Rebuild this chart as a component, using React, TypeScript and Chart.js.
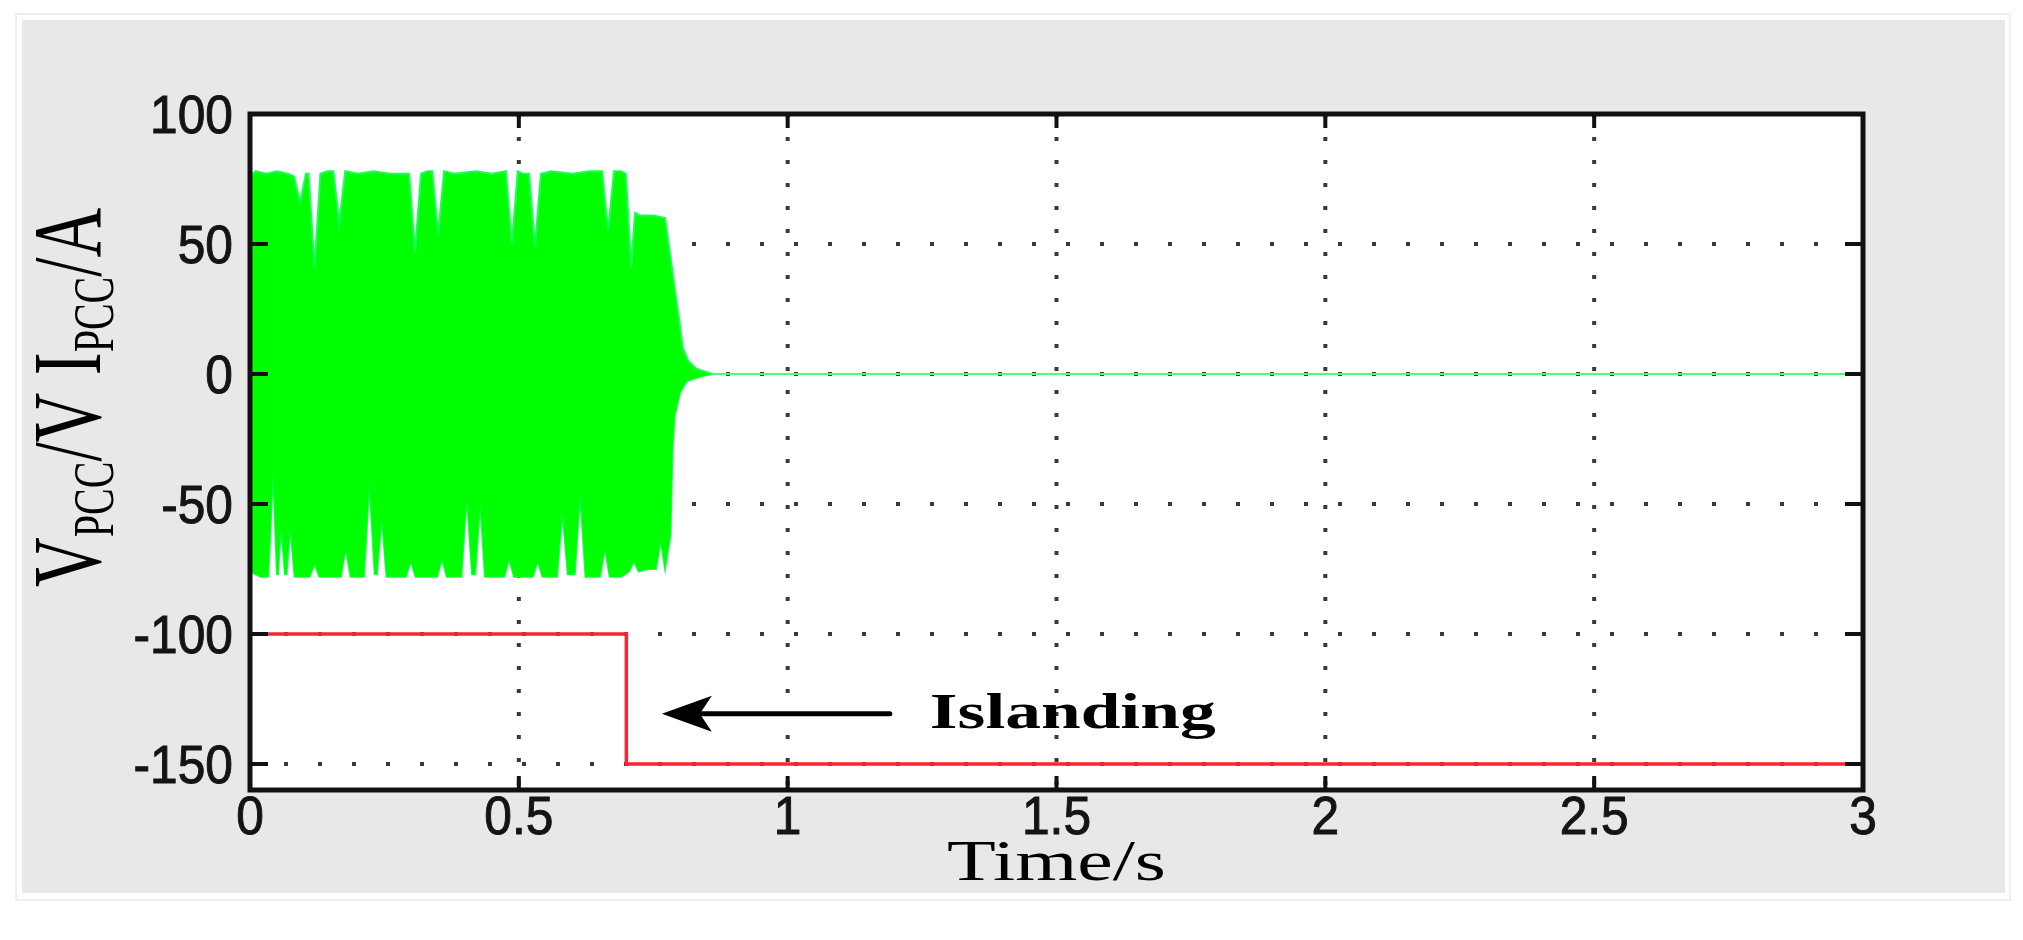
import React, { useEffect, useRef } from 'react';
import { Chart, registerables } from 'chart.js';

Chart.register(...registerables);

// ---------------- data ----------------
const xTicks = [0, 0.5, 1, 1.5, 2, 2.5, 3];
const xTickLabels = ['0', '0.5', '1', '1.5', '2', '2.5', '3'];
const yTicks = [-150, -100, -50, 0, 50, 100];
const yTickLabels = ['-150', '-100', '-50', '0', '50', '100'];

// green signal: upper envelope (time, value)
const upperTime = [
  0, 0.01, 0.03, 0.05, 0.07, 0.082, 0.093, 0.104, 0.109, 0.12, 0.131, 0.145, 0.155, 0.166, 0.177,
  0.2, 0.23, 0.26, 0.285, 0.296, 0.307, 0.318, 0.33, 0.339, 0.35, 0.361, 0.38, 0.42, 0.45, 0.476,
  0.487, 0.498, 0.508, 0.519, 0.53, 0.541, 0.56, 0.6, 0.63, 0.655, 0.666, 0.677, 0.69, 0.699, 0.709,
  0.716, 0.725, 0.75, 0.772, 0.78, 0.79, 0.8, 0.805, 0.815, 0.83, 0.845, 0.86, 2.98,
];
const upperValue = [
  76, 78, 77, 78, 77, 76, 66, 77, 77, 41, 77, 78, 78, 58, 78,
  77, 78, 77, 77, 77, 47, 77, 78, 78, 54, 78, 77, 78, 77, 78,
  50, 78, 77, 77, 49, 77, 78, 77, 78, 78, 55, 78, 78, 77, 41,
  62, 61, 61, 60, 48, 33, 18, 10, 5, 2, 1, 0, 0,
];

// green signal: lower envelope (time, value)
const lowerTime = [
  0, 0.02, 0.034, 0.043, 0.05, 0.052, 0.058, 0.065, 0.068, 0.075, 0.083, 0.1, 0.111, 0.12, 0.129,
  0.15, 0.169, 0.178, 0.187, 0.212, 0.222, 0.232, 0.236, 0.245, 0.254, 0.28, 0.29, 0.299, 0.308,
  0.33, 0.348, 0.357, 0.366, 0.393, 0.403, 0.413, 0.419, 0.428, 0.437, 0.46, 0.473, 0.482, 0.491,
  0.51, 0.526, 0.535, 0.544, 0.571, 0.581, 0.591, 0.604, 0.614, 0.624, 0.651, 0.66, 0.669, 0.69,
  0.705, 0.714, 0.723, 0.74, 0.755, 0.764, 0.772, 0.782, 0.786, 0.79, 0.8, 0.812, 0.84, 0.86, 2.98,
];
const lowerValue = [
  -76, -78, -78, -37, -77, -77, -58, -77, -77, -59, -78, -78, -78, -73, -78,
  -78, -78, -67, -78, -78, -42, -77, -77, -55, -78, -78, -78, -72, -78,
  -78, -78, -71, -78, -78, -47, -77, -77, -49, -78, -78, -78, -71, -78,
  -78, -78, -72, -78, -78, -53, -77, -77, -46, -78, -78, -67, -78, -78,
  -76, -72, -76, -75, -75, -64, -75, -62, -28, -16, -7, -2.7, -0.9, 0, 0,
];

// red signal (time, value)
const redTime = [0, 0.7, 0.7, 3];
const redValue = [-100, -100, -150, -150];

// annotation (data coordinates)
const arrowTip = { x: 0.766, y: -130.7 };
const arrowTail = { x: 1.19, y: -130.7 };
const islandingText = 'Islanding';
const xTitle = 'Time/s';

// ---------------- drawing helpers ----------------
const GREEN = '#00ff00';
const EDGE_GREEN = 'rgb(30,255,90)';
const RED = 'rgb(255,35,50)';

function stretchText(
  ctx: CanvasRenderingContext2D, text: string, x: number, y: number, sx: number,
  align: CanvasTextAlign, strokeW = 0,
) {
  ctx.save();
  ctx.translate(x, y);
  ctx.scale(sx, 1);
  ctx.textAlign = align;
  ctx.textBaseline = 'alphabetic';
  ctx.fillText(text, 0, 0);
  if (strokeW > 0) {
    ctx.lineWidth = strokeW;
    ctx.strokeStyle = ctx.fillStyle as string;
    ctx.strokeText(text, 0, 0);
  }
  ctx.restore();
}

const figurePlugin = {
  id: 'figure',
  beforeDraw(chart: any) {
    const { ctx, chartArea: a } = chart;
    ctx.save();
    ctx.fillStyle = '#ffffff';
    ctx.fillRect(0, 0, chart.width, chart.height);
    ctx.strokeStyle = '#efefef';
    ctx.lineWidth = 2;
    ctx.strokeRect(16, 14, 1994, 886);
    ctx.fillStyle = '#e8e8e8';
    ctx.fillRect(22, 20, 1983, 873);
    ctx.fillStyle = '#ffffff';
    ctx.fillRect(a.left, a.top, a.right - a.left, a.bottom - a.top);
    ctx.restore();
  },
  beforeDatasetsDraw(chart: any) {
    const { ctx, chartArea: a, scales } = chart;
    ctx.save();
    ctx.strokeStyle = 'rgba(35,35,35,0.9)';
    ctx.lineWidth = 4;
    ctx.lineCap = 'butt';
    ctx.setLineDash([4, 19]);
    for (const v of xTicks) {
      if (v === 0 || v === 3) continue;
      const px = scales.x.getPixelForValue(v);
      ctx.beginPath();
      ctx.moveTo(px, a.top);
      ctx.lineTo(px, a.bottom);
      ctx.stroke();
    }
    ctx.setLineDash([4, 30]);
    for (const v of yTicks) {
      if (v === 100) continue;
      const py = scales.y.getPixelForValue(v);
      ctx.beginPath();
      ctx.moveTo(a.left, py);
      ctx.lineTo(a.right, py);
      ctx.stroke();
    }
    ctx.restore();
  },
  afterDatasetsDraw(chart: any) {
    const { ctx, chartArea: a, scales } = chart;
    ctx.save();
    ctx.strokeStyle = '#111';
    ctx.lineWidth = 4;
    // inside ticks
    for (const v of xTicks) {
      const px = scales.x.getPixelForValue(v);
      ctx.beginPath();
      ctx.moveTo(px, a.bottom);
      ctx.lineTo(px, a.bottom - 14);
      ctx.moveTo(px, a.top);
      ctx.lineTo(px, a.top + 14);
      ctx.stroke();
    }
    for (const v of yTicks) {
      const py = scales.y.getPixelForValue(v);
      ctx.beginPath();
      ctx.moveTo(a.left, py);
      ctx.lineTo(a.left + 18, py);
      ctx.moveTo(a.right, py);
      ctx.lineTo(a.right - 18, py);
      ctx.stroke();
    }
    // frame
    ctx.lineWidth = 5;
    ctx.strokeRect(a.left, a.top, a.right - a.left, a.bottom - a.top);

    // tick labels
    ctx.fillStyle = '#141414';
    ctx.font = '54px "Liberation Sans", Arial, sans-serif';
    xTicks.forEach((v, i) => {
      const px = scales.x.getPixelForValue(v);
      stretchText(ctx, xTickLabels[i], px, a.bottom + 44, 0.92, 'center', 1);
    });
    yTicks.forEach((v, i) => {
      const py = scales.y.getPixelForValue(v);
      stretchText(ctx, yTickLabels[i], a.left - 17, py + 0.358 * 54, 0.92, 'right', 1);
    });

    // x title
    ctx.fillStyle = '#000';
    ctx.font = '57px "Liberation Serif", "Times New Roman", serif';
    stretchText(ctx, xTitle, (a.left + a.right) / 2, a.bottom + 90, 1.4, 'center');

    // y title with subscripts
    ctx.save();
    ctx.translate(100, 587);
    ctx.rotate(-Math.PI / 2);
    ctx.scale(1, 1.4);
    ctx.textAlign = 'left';
    ctx.textBaseline = 'alphabetic';
    const parts: [string, boolean][] = [['V', false], ['PCC', true], ['/V I', false], ['PCC', true], ['/A', false]];
    let pos = 0;
    for (const [t, sub] of parts) {
      ctx.font = sub ? '40px "Liberation Serif", serif' : '69px "Liberation Serif", serif';
      ctx.fillText(t, pos, sub ? 9 : 0);
      pos += ctx.measureText(t).width;
    }
    ctx.restore();

    // islanding annotation
    const tipX = scales.x.getPixelForValue(arrowTip.x);
    const tipY = scales.y.getPixelForValue(arrowTip.y);
    const tailX = scales.x.getPixelForValue(arrowTail.x);
    ctx.strokeStyle = '#000';
    ctx.fillStyle = '#000';
    ctx.lineWidth = 5;
    ctx.lineCap = 'round';
    ctx.beginPath();
    ctx.moveTo(tailX, tipY);
    ctx.lineTo(tipX + 30, tipY);
    ctx.stroke();
    ctx.beginPath();
    ctx.moveTo(tipX, tipY);
    ctx.lineTo(tipX + 50, tipY - 18);
    ctx.lineTo(tipX + 38, tipY);
    ctx.lineTo(tipX + 50, tipY + 18);
    ctx.closePath();
    ctx.fill();
    ctx.font = 'bold 51px "Liberation Serif", "Times New Roman", serif';
    stretchText(ctx, islandingText, tailX + 40, tipY + 14, 1.4, 'left');
    ctx.restore();
  },
};

export default function App() {
  const ref = useRef<HTMLCanvasElement | null>(null);

  useEffect(() => {
    if (!ref.current) return;
    const upper = upperTime.map((t, i) => ({ x: t, y: upperValue[i] }));
    const lower = lowerTime.map((t, i) => ({ x: t, y: lowerValue[i] }));
    const red = redTime.map((t, i) => ({ x: t, y: redValue[i] }));
    const zeroColor = (c: any) => (c.p0.parsed.x >= 0.85 ? 'rgb(70,255,130)' : EDGE_GREEN);

    const chart = new Chart(ref.current, {
      type: 'scatter',
      data: {
        datasets: [
          {
            label: 'I upper',
            data: upper,
            showLine: true,
            pointRadius: 0,
            borderWidth: 2,
            borderColor: EDGE_GREEN,
            backgroundColor: GREEN,
            fill: '+1',
            segment: { borderColor: zeroColor },
          } as any,
          {
            label: 'I lower',
            data: lower,
            showLine: true,
            pointRadius: 0,
            borderWidth: 2,
            borderColor: EDGE_GREEN,
            backgroundColor: GREEN,
            fill: false,
            segment: { borderColor: zeroColor },
          } as any,
          {
            label: 'V',
            data: red,
            showLine: true,
            pointRadius: 0,
            borderWidth: 3.5,
            borderColor: RED,
            fill: false,
          } as any,
        ],
      },
      options: {
        animation: false,
        responsive: false,
        devicePixelRatio: 1,
        layout: { padding: { left: 0, right: 160, top: 114, bottom: 0 } },
        plugins: { legend: { display: false }, tooltip: { enabled: false } },
        scales: {
          x: {
            type: 'linear',
            min: 0,
            max: 3,
            grid: { display: false },
            border: { display: false },
            ticks: { display: false },
            afterFit: (s: any) => { s.height = 150; },
          },
          y: {
            type: 'linear',
            min: -160,
            max: 100,
            grid: { display: false },
            border: { display: false },
            ticks: { display: false },
            afterFit: (s: any) => { s.width = 250; },
          },
        },
      } as any,
      plugins: [figurePlugin],
    });
    return () => chart.destroy();
  }, []);

  return (
    <div style={{ position: 'fixed', left: 0, top: 0, width: 2023, height: 940, background: '#fff' }}>
      <canvas ref={ref} width={2023} height={940} style={{ width: 2023, height: 940, display: 'block' }} />
    </div>
  );
}
